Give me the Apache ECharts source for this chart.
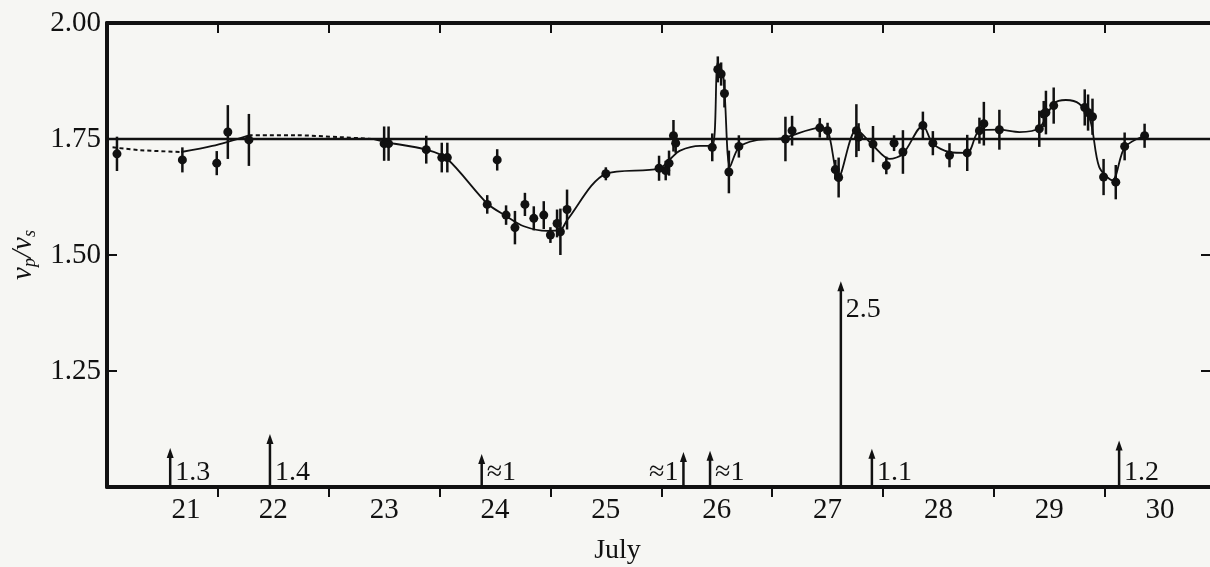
<!DOCTYPE html>
<html>
<head>
<meta charset="utf-8">
<script src="https://cdn.jsdelivr.net/npm/echarts@6/dist/echarts.min.js"></script>
<style>html,body{margin:0;padding:0;background:#f6f6f3;}#c{width:1210px;height:567px;}</style>
</head>
<body>
<div id="c"></div>
<script>
// ---- data ----
const ptX = [20.59,21.18,21.49,21.59,21.78,23.00,23.04,23.38,23.52,23.57,24.02,23.93,24.10,24.18,24.27,24.35,24.44,24.50,24.56,24.59,24.65,25.00,25.48,25.54,25.57,25.61,25.63,25.96,26.01,26.04,26.07,26.11,26.20,26.62,26.68,26.93,27.00,27.07,27.10,27.26,27.28,27.41,27.53,27.60,27.68,27.86,27.95,28.10,28.26,28.37,28.41,28.55,28.91,28.95,28.97,29.04,29.32,29.35,29.39,29.49,29.60,29.68,29.86];
const ptY = [1.718,1.705,1.698,1.765,1.748,1.740,1.740,1.727,1.710,1.710,1.705,1.609,1.586,1.559,1.609,1.579,1.586,1.543,1.568,1.550,1.598,1.675,1.687,1.682,1.698,1.757,1.741,1.732,1.900,1.890,1.848,1.679,1.734,1.750,1.768,1.774,1.768,1.684,1.667,1.768,1.754,1.739,1.693,1.741,1.722,1.779,1.741,1.715,1.720,1.768,1.783,1.770,1.772,1.804,1.807,1.822,1.818,1.807,1.798,1.668,1.657,1.734,1.757];
const ptErr = [0.037,0.027,0.026,0.058,0.056,0.037,0.037,0.030,0.032,0.032,0.023,0.020,0.021,0.036,0.025,0.026,0.030,0.017,0.030,0.050,0.043,0.014,0.027,0.021,0.027,0.034,0.021,0.030,0.028,0.025,0.030,0.046,0.024,0.048,0.032,0.021,0.017,0.021,0.043,0.057,0.030,0.039,0.019,0.017,0.047,0.030,0.026,0.026,0.039,0.028,0.047,0.043,0.039,0.028,0.047,0.039,0.039,0.039,0.039,0.039,0.037,0.030,0.026];

const dot1X = [20.55,20.8,21.17];
const dot1Y = [1.732,1.726,1.722];
const solid1X = [21.17,21.45,21.78];
const solid1Y = [1.722,1.735,1.758];
const dot2X = [21.78,22.2,22.6,22.9];
const dot2Y = [1.758,1.758,1.754,1.750];
const curveX = [22.9,23.0,23.38,23.57,23.93,24.10,24.26,24.47,24.59,24.65,25.0,25.48,25.58,25.67,25.85,25.96,26.01,26.06,26.12,26.2,26.35,26.6,26.93,27.0,27.1,27.26,27.41,27.56,27.68,27.86,27.95,28.1,28.26,28.37,28.55,28.73,28.91,29.04,29.15,29.27,29.37,29.45,29.57,29.68,29.86];
const curveY = [1.750,1.744,1.727,1.707,1.611,1.584,1.562,1.552,1.554,1.575,1.675,1.686,1.707,1.725,1.735,1.735,1.915,1.885,1.690,1.732,1.747,1.752,1.774,1.770,1.668,1.770,1.736,1.707,1.718,1.779,1.740,1.722,1.720,1.768,1.770,1.765,1.774,1.826,1.834,1.826,1.790,1.690,1.661,1.732,1.757];

const refLevel = 1.75;

const evX = [21.07,21.97,23.88,25.70,25.94,27.12,27.40,29.63];
const evTop = [1.080,1.110,1.067,1.071,1.074,1.439,1.078,1.096];
const evLabel = ['1.3','1.4','≈1','≈1','≈1','2.5','1.1','1.2'];
const evSide = ['r','r','r','l','r','r','r','r'];

const dayLabels = [21,22,23,24,25,26,27,28,29,30];
const dayBounds = [21.5,22.5,23.5,24.5,25.5,26.5,27.5,28.5,29.5];

// ---- chart ----
const INK = '#111111';
const FONT = '"Liberation Serif", "DejaVu Serif", serif';
const X_MIN = 20.5, X_MAX = 30.45;

const chart = echarts.init(document.getElementById('c'), null, {renderer: 'canvas'});

const option = {
  backgroundColor: '#f6f6f3',
  animation: false,
  grid: {left: 107, right: 0, top: 23, bottom: 80, containLabel: false, outerBoundsMode: 'none'},
  xAxis: [
    {
      type: 'value', position: 'bottom', min: X_MIN, max: X_MAX,
      axisLine: {lineStyle: {color: INK, width: 4}},
      axisTick: {show: true, inside: false, length: 10, lineStyle: {color: INK, width: 2}, customValues: dayBounds},
      axisLabel: {
        customValues: dayLabels, margin: 9, color: INK, fontFamily: FONT, fontSize: 29,
        formatter: function (v) { const s = String(Math.round(v)); return s === '21' ? '{f|' + s + '}' : s; },
        rich: {f: {padding: [0, 0, 0, 47], color: INK, fontFamily: FONT, fontSize: 29}}
      },
      splitLine: {show: false},
      name: 'July', nameLocation: 'middle', nameGap: 50,
      nameTextStyle: {color: INK, fontFamily: FONT, fontSize: 28, padding: [0, 82, 0, 0]}
    },
    {
      type: 'value', position: 'top', min: X_MIN, max: X_MAX,
      axisLine: {lineStyle: {color: INK, width: 4}},
      axisTick: {show: true, inside: true, length: 10, lineStyle: {color: INK, width: 2}, customValues: dayBounds},
      axisLabel: {show: false},
      splitLine: {show: false}
    }
  ],
  yAxis: [
    {
      type: 'value', position: 'left', min: 1, max: 2, interval: 0.25,
      axisLine: {show: true, lineStyle: {color: INK, width: 4}},
      axisTick: {show: true, inside: true, length: 10, lineStyle: {color: INK, width: 2}},
      axisLabel: {
        margin: 6, color: INK, fontFamily: FONT, fontSize: 29,
        formatter: function (v) { return v === 1 ? '' : v.toFixed(2); }
      },
      splitLine: {show: false},
      name: '{v|v}{s|p}{v|/v}{s|s}', nameLocation: 'middle', nameRotate: 90, nameGap: 63,
      nameTextStyle: {
        rich: {
          v: {fontFamily: FONT, fontStyle: 'italic', fontSize: 29, color: INK, lineHeight: 32, verticalAlign: 'middle'},
          s: {fontFamily: FONT, fontStyle: 'italic', fontSize: 18, color: INK, lineHeight: 32, verticalAlign: 'bottom'}
        }
      }
    },
    {
      type: 'value', position: 'right', min: 1, max: 2, interval: 0.25,
      axisLine: {show: false},
      axisTick: {show: true, inside: true, length: 9, lineStyle: {color: INK, width: 2}},
      axisLabel: {show: false},
      splitLine: {show: false}
    }
  ],
  series: [
    {
      type: 'line', xAxisIndex: 0, yAxisIndex: 0, showSymbol: false, silent: true,
      data: [[X_MIN, refLevel], [X_MAX, refLevel]],
      lineStyle: {color: INK, width: 2.5}
    },
    {
      type: 'line', showSymbol: false, silent: true, smooth: 0.3,
      data: dot1X.map((x, i) => [x, dot1Y[i]]),
      lineStyle: {color: INK, width: 2, type: [4, 3]}
    },
    {
      type: 'line', showSymbol: false, silent: true, smooth: 0.3,
      data: solid1X.map((x, i) => [x, solid1Y[i]]),
      lineStyle: {color: INK, width: 1.8}
    },
    {
      type: 'line', showSymbol: false, silent: true, smooth: 0.3,
      data: dot2X.map((x, i) => [x, dot2Y[i]]),
      lineStyle: {color: INK, width: 2, type: [4, 3]}
    },
    {
      type: 'line', showSymbol: false, silent: true, smooth: 0.3,
      data: curveX.map((x, i) => [x, curveY[i]]),
      lineStyle: {color: INK, width: 1.8}
    },
    {
      type: 'custom', silent: true,
      encode: {x: 0, y: 1},
      data: ptX.map((x, i) => [x, ptY[i], ptErr[i]]),
      renderItem: function (params, api) {
        const x = api.value(0), y = api.value(1), e = api.value(2);
        const c = api.coord([x, y]);
        const lo = api.coord([x, y - e]);
        const hi = api.coord([x, y + e]);
        return {
          type: 'group',
          children: [
            {type: 'line', shape: {x1: lo[0], y1: lo[1], x2: hi[0], y2: hi[1]}, style: {stroke: INK, lineWidth: 2.5}},
            {type: 'circle', shape: {cx: c[0], cy: c[1], r: 4.5}, style: {fill: INK}}
          ]
        };
      }
    },
    {
      type: 'custom', silent: true,
      encode: {x: 0, y: 1},
      data: evX.map((x, i) => [x, evTop[i], i]),
      renderItem: function (params, api) {
        const x = api.value(0), top = api.value(1), i = api.value(2);
        const b = api.coord([x, 1]);
        const t = api.coord([x, top]);
        const tall = (b[1] - t[1]) > 100;
        const side = evSide[i];
        const tx = side === 'r' ? t[0] + 5 : t[0] - 5;
        const ty = tall ? t[1] + 12 : b[1] - 28;
        return {
          type: 'group',
          children: [
            {type: 'line', shape: {x1: b[0], y1: b[1], x2: t[0], y2: t[1] + 4}, style: {stroke: INK, lineWidth: 2.5}},
            {type: 'polygon', shape: {points: [[t[0], t[1] - 2], [t[0] - 3.5, t[1] + 8], [t[0] + 3.5, t[1] + 8]]}, style: {fill: INK}},
            {type: 'text', style: {text: evLabel[i], x: tx, y: ty, fill: INK, font: '28px ' + FONT, align: side === 'r' ? 'left' : 'right', verticalAlign: 'top'}}
          ]
        };
      }
    }
  ]
};
chart.setOption(option);
</script>
</body>
</html>
